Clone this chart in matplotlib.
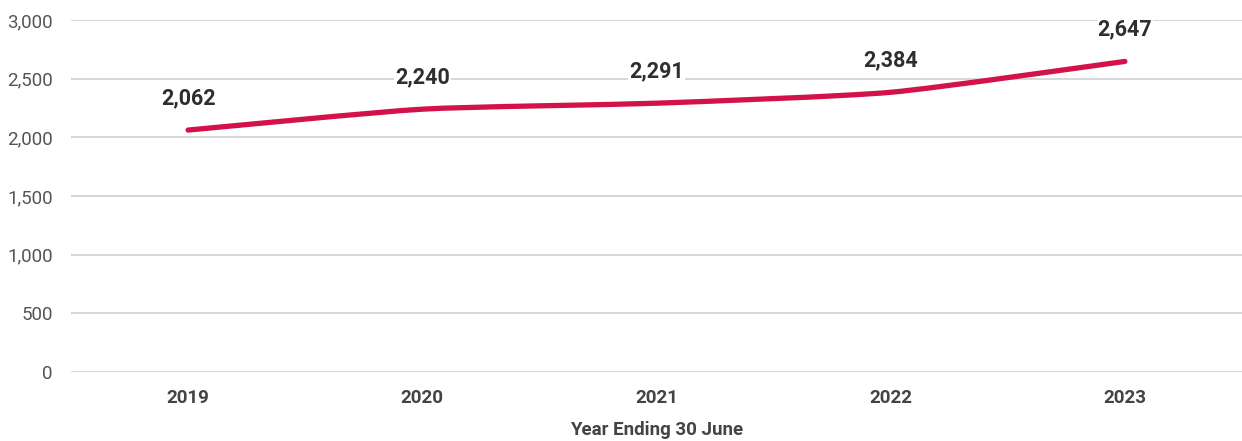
import numpy as np
import matplotlib
matplotlib.use("Agg")
import matplotlib.pyplot as plt
from matplotlib.path import Path
from matplotlib.patches import PathPatch

years = ["2019", "2020", "2021", "2022", "2023"]
values = [2062, 2240, 2291, 2384, 2647]
y_ticks = [0, 500, 1000, 1500, 2000, 2500, 3000]

plt.rcParams['font.family'] = ['Roboto', 'DejaVu Sans']

fig = plt.figure(figsize=(12.42, 4.41), dpi=100)
ax = fig.add_axes([71/1242, 69/441, 1 - 71/1242, 352/441])

x = np.arange(len(years))
ax.set_xlim(-0.5, len(years) - 0.5)
ax.set_ylim(0, 3000)

# smooth line through the points (cubic bezier segments)
pts = np.column_stack([x, values]).astype(float)
k = 0.1
verts = [pts[0]]
codes = [Path.MOVETO]
for i in range(len(pts) - 1):
    prev = pts[i - 1] if i > 0 else pts[i]
    nxt = pts[i + 2] if i + 2 < len(pts) else pts[i + 1]
    c1 = pts[i] + k * (pts[i + 1] - prev)
    c2 = pts[i + 1] - k * (nxt - pts[i])
    verts += [c1, c2, pts[i + 1]]
    codes += [Path.CURVE4] * 3
ax.add_patch(PathPatch(Path(verts, codes), facecolor='none', edgecolor='#d3124a',
                       lw=3.8, capstyle='round', zorder=3))

for xi, v in zip(x, values):
    ax.annotate(f"{v:,}", (xi, v), xytext=(0, 23), textcoords='offset points',
                ha='center', va='center', fontsize=15.5, fontweight='bold',
                color='#2e2e2e', zorder=4,
                bbox=dict(boxstyle='square,pad=0.05', fc='white', ec='none'))

ax.set_yticks(y_ticks)
ax.set_yticklabels([f"{t:,}" for t in y_ticks])
ax.set_xticks(x)
ax.set_xticklabels(years, fontweight='bold')
ax.grid(axis='y', color='#d6d6d6', lw=1.4)
ax.set_axisbelow(True)
for s in ax.spines.values():
    s.set_visible(False)
ax.tick_params(axis='y', length=0, pad=13, labelsize=13.5, labelcolor='#555555')
ax.tick_params(axis='x', length=0, pad=12, labelsize=13.5, labelcolor='#444444')
ax.set_xlabel("Year Ending 30 June", fontsize=13.5, fontweight='bold', color='#444444',
              labelpad=10)

fig.savefig("out.png", dpi=100)
